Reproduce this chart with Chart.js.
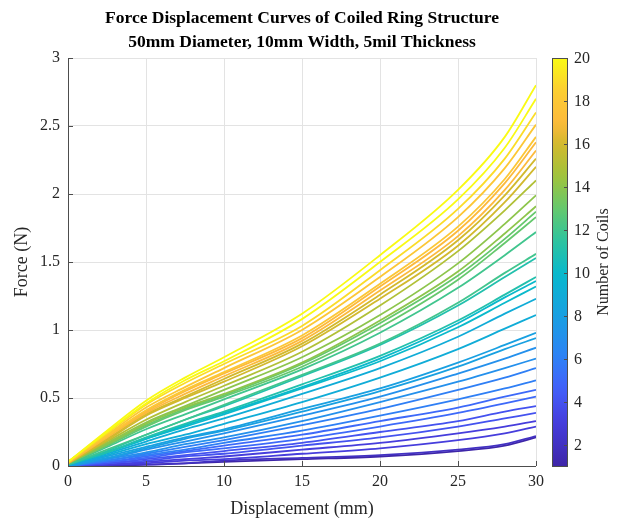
<!DOCTYPE html>
<html>
<head>
<meta charset="utf-8">
<script src="https://cdn.jsdelivr.net/npm/chart.js@4"></script>
<style>
  html, body { margin: 0; padding: 0; background: #fff; }
  canvas { display: block; }
</style>
</head>
<body>
<canvas id="chart" width="622" height="522"></canvas>
<script>
// Displacement samples (mm) shared by every curve
const displacement = [0, 2.5, 5, 7.5, 10, 15, 20, 25, 28, 30];

// Coil count of each curve (drives the colour)
const coils = [20, 20, 19, 18, 18, 17, 17, 16, 16, 15, 14, 14, 13, 13, 12, 12, 11, 11,
  10, 10, 9, 9, 8, 8, 7, 7, 6, 6, 5, 5, 4, 4, 3, 3, 2, 1];

// Force (N) per curve
const force01 = [0.03, 0.26, 0.48, 0.65, 0.80, 1.12, 1.55, 2.03, 2.42, 2.80];
const force02 = [0.03, 0.25, 0.46, 0.63, 0.77, 1.08, 1.50, 1.96, 2.34, 2.70];
const force03 = [0.03, 0.24, 0.45, 0.61, 0.75, 1.03, 1.44, 1.89, 2.26, 2.60];
const force04 = [0.03, 0.23, 0.43, 0.58, 0.72, 1.00, 1.39, 1.83, 2.19, 2.51];
const force05 = [0.03, 0.22, 0.41, 0.56, 0.69, 0.96, 1.34, 1.76, 2.11, 2.42];
const force06 = [0.03, 0.22, 0.40, 0.55, 0.68, 0.94, 1.32, 1.73, 2.08, 2.38];
const force07 = [0.02, 0.21, 0.39, 0.53, 0.66, 0.92, 1.29, 1.69, 2.03, 2.32];
const force08 = [0.02, 0.20, 0.38, 0.51, 0.64, 0.90, 1.26, 1.66, 1.99, 2.26];
const force09 = [0.02, 0.19, 0.37, 0.50, 0.62, 0.88, 1.23, 1.62, 1.94, 2.20];
const force10 = [0.02, 0.18, 0.34, 0.47, 0.59, 0.84, 1.18, 1.58, 1.88, 2.10];
const force11 = [0.02, 0.17, 0.32, 0.44, 0.56, 0.80, 1.11, 1.49, 1.78, 1.99];
const force12 = [0.02, 0.16, 0.31, 0.43, 0.53, 0.76, 1.07, 1.43, 1.71, 1.91];
const force13 = [0.02, 0.16, 0.30, 0.42, 0.52, 0.75, 1.05, 1.40, 1.67, 1.87];
const force14 = [0.02, 0.15, 0.29, 0.41, 0.51, 0.73, 1.02, 1.37, 1.64, 1.83];
const force15 = [0.01, 0.14, 0.27, 0.38, 0.49, 0.71, 0.98, 1.31, 1.55, 1.72];
const force16 = [0.01, 0.12, 0.23, 0.34, 0.45, 0.67, 0.90, 1.20, 1.42, 1.56];
const force17 = [0.01, 0.11, 0.23, 0.34, 0.44, 0.66, 0.89, 1.18, 1.39, 1.53];
const force18 = [0.01, 0.10, 0.21, 0.31, 0.40, 0.60, 0.81, 1.07, 1.26, 1.39];
const force19 = [0.01, 0.10, 0.20, 0.30, 0.39, 0.58, 0.79, 1.05, 1.24, 1.36];
const force20 = [0.01, 0.10, 0.20, 0.29, 0.38, 0.57, 0.77, 1.02, 1.20, 1.32];
const force21 = [0.01, 0.09, 0.18, 0.27, 0.35, 0.53, 0.72, 0.95, 1.12, 1.23];
const force22 = [0.01, 0.08, 0.16, 0.23, 0.31, 0.47, 0.65, 0.86, 1.01, 1.11];
const force23 = [0.00, 0.07, 0.14, 0.21, 0.27, 0.42, 0.57, 0.76, 0.89, 0.98];
const force24 = [0.00, 0.06, 0.13, 0.20, 0.26, 0.40, 0.55, 0.73, 0.86, 0.94];
const force25 = [0.00, 0.05, 0.12, 0.18, 0.24, 0.37, 0.51, 0.68, 0.79, 0.87];
const force26 = [0.00, 0.05, 0.10, 0.16, 0.21, 0.33, 0.47, 0.62, 0.72, 0.79];
const force27 = [0.00, 0.04, 0.09, 0.14, 0.19, 0.30, 0.42, 0.56, 0.65, 0.72];
const force28 = [0.00, 0.04, 0.08, 0.12, 0.17, 0.26, 0.37, 0.49, 0.57, 0.63];
const force29 = [0.00, 0.03, 0.07, 0.11, 0.15, 0.23, 0.33, 0.43, 0.51, 0.56];
const force30 = [0.00, 0.03, 0.06, 0.10, 0.13, 0.20, 0.29, 0.39, 0.46, 0.51];
const force31 = [0.00, 0.02, 0.05, 0.08, 0.11, 0.17, 0.25, 0.33, 0.40, 0.44];
const force32 = [0.00, 0.02, 0.04, 0.07, 0.09, 0.15, 0.21, 0.29, 0.35, 0.39];
const force33 = [0.00, 0.01, 0.03, 0.05, 0.07, 0.12, 0.17, 0.24, 0.29, 0.33];
const force34 = [0.00, 0.01, 0.02, 0.04, 0.05, 0.09, 0.13, 0.19, 0.24, 0.29];
const force35 = [0.00, 0.01, 0.01, 0.02, 0.04, 0.06, 0.08, 0.12, 0.16, 0.22];
const force36 = [0.00, 0.00, 0.01, 0.02, 0.03, 0.05, 0.07, 0.11, 0.15, 0.21];

const forces = [force01, force02, force03, force04, force05, force06, force07, force08, force09,
  force10, force11, force12, force13, force14, force15, force16, force17, force18, force19,
  force20, force21, force22, force23, force24, force25, force26, force27, force28, force29,
  force30, force31, force32, force33, force34, force35, force36];

// Axis ticks
const xTicks = [0, 5, 10, 15, 20, 25, 30];
const yTicks = [0, 0.5, 1, 1.5, 2, 2.5, 3];
const coilTicks = [2, 4, 6, 8, 10, 12, 14, 16, 18, 20];
const coilMin = 1, coilMax = 20;

const SERIF = '"Liberation Serif", "DejaVu Serif", serif';
const TEXT = '#262626';

// parula-like colour stops (position 0..1)
const stops = [
  [0.00, [62, 38, 168]],
  [0.11, [70, 62, 222]],
  [0.19, [66, 96, 250]],
  [0.27, [45, 130, 245]],
  [0.37, [25, 160, 225]],
  [0.47, [8, 184, 205]],
  [0.55, [45, 195, 160]],
  [0.63, [100, 200, 110]],
  [0.71, [160, 195, 60]],
  [0.79, [210, 185, 45]],
  [0.84, [252, 185, 60]],
  [0.92, [252, 205, 50]],
  [1.00, [249, 250, 20]],
];

function parula(t) {
  t = Math.max(0, Math.min(1, t));
  for (let i = 1; i < stops.length; i++) {
    if (t <= stops[i][0]) {
      const [t0, c0] = stops[i - 1];
      const [t1, c1] = stops[i];
      const f = (t - t0) / (t1 - t0);
      const c = c0.map((v, k) => Math.round(v + (c1[k] - v) * f));
      return `rgb(${c[0]},${c[1]},${c[2]})`;
    }
  }
  return 'rgb(249,250,20)';
}

function coilColor(n) {
  return parula((n - coilMin) / (coilMax - coilMin));
}

const datasets = forces.map((f, i) => ({
  data: displacement.map((x, j) => ({ x, y: f[j] })),
  borderColor: coilColor(coils[i]),
  borderWidth: 1.8,
  pointRadius: 0,
  fill: false,
  cubicInterpolationMode: 'monotone',
}));

// Title, inward ticks and colorbar
const decorations = {
  id: 'decorations',
  afterDraw(chart) {
    const ctx = chart.ctx;
    const area = chart.chartArea;
    const xs = chart.scales.x, ys = chart.scales.y;
    ctx.save();

    // axis lines + inward ticks
    ctx.strokeStyle = '#4d4d4d';
    ctx.lineWidth = 1;
    ctx.beginPath();
    ctx.moveTo(area.left + 0.5, area.top);
    ctx.lineTo(area.left + 0.5, area.bottom + 0.5);
    ctx.lineTo(area.right, area.bottom + 0.5);
    xTicks.forEach(v => {
      const px = Math.round(xs.getPixelForValue(v)) + 0.5;
      ctx.moveTo(px, area.bottom);
      ctx.lineTo(px, area.bottom - 5);
    });
    yTicks.forEach(v => {
      const py = Math.round(ys.getPixelForValue(v)) + 0.5;
      ctx.moveTo(area.left, py);
      ctx.lineTo(area.left + 5, py);
    });
    ctx.stroke();

    // title
    ctx.fillStyle = '#000';
    ctx.font = 'bold 17.5px ' + SERIF;
    ctx.textAlign = 'center';
    ctx.textBaseline = 'middle';
    const cx = (area.left + area.right) / 2;
    ctx.fillText('Force Displacement Curves of Coiled Ring Structure', cx, 18);
    ctx.fillText('50mm Diameter, 10mm Width, 5mil Thickness', cx, 42);

    // colorbar
    const cbL = 552, cbR = 568, cbT = area.top, cbB = area.bottom;
    const grad = ctx.createLinearGradient(0, cbB, 0, cbT);
    for (let k = 0; k <= 40; k++) grad.addColorStop(k / 40, parula(k / 40));
    ctx.fillStyle = grad;
    ctx.fillRect(cbL, cbT, cbR - cbL, cbB - cbT);
    ctx.strokeStyle = '#4d4d4d';
    ctx.lineWidth = 1;
    ctx.strokeRect(cbL + 0.5, cbT + 0.5, cbR - cbL - 1, cbB - cbT);
    ctx.fillStyle = TEXT;
    ctx.font = '16px ' + SERIF;
    ctx.textAlign = 'left';
    ctx.textBaseline = 'middle';
    coilTicks.forEach(v => {
      const py = Math.round(cbB - (v - coilMin) / (coilMax - coilMin) * (cbB - cbT)) + 0.5;
      ctx.beginPath();
      ctx.moveTo(cbR - 4, py);
      ctx.lineTo(cbR, py);
      ctx.stroke();
      ctx.fillText(String(v), 574, py);
    });
    ctx.translate(604, (cbT + cbB) / 2);
    ctx.rotate(-Math.PI / 2);
    ctx.textAlign = 'center';
    ctx.font = '16px ' + SERIF;
    ctx.fillText('Number of Coils', 0, 0);
    ctx.restore();
  }
};

new Chart(document.getElementById('chart'), {
  type: 'line',
  data: { datasets },
  options: {
    responsive: false,
    animation: false,
    layout: { padding: { left: 0, right: 86, top: 58, bottom: 0 } },
    plugins: { legend: { display: false }, tooltip: { enabled: false } },
    scales: {
      x: {
        type: 'linear',
        min: 0, max: 30,
        afterBuildTicks: s => { s.ticks = xTicks.map(value => ({ value })); },
        afterFit: s => { s.height = 56; },
        grid: { color: '#e3e3e3', drawTicks: false },
        border: { display: false },
        ticks: { color: TEXT, font: { family: SERIF, size: 16 }, padding: 6, maxRotation: 0 },
        title: { display: true, text: 'Displacement (mm)', color: TEXT, font: { family: SERIF, size: 18 }, padding: 2 },
      },
      y: {
        type: 'linear',
        min: 0, max: 3,
        afterBuildTicks: s => { s.ticks = yTicks.map(value => ({ value })); },
        afterFit: s => { s.width = 68; },
        grid: { color: '#e3e3e3', drawTicks: false },
        border: { display: false },
        ticks: { color: TEXT, font: { family: SERIF, size: 16 }, padding: 8, callback: v => String(v) },
        title: { display: true, text: 'Force (N)', color: TEXT, font: { family: SERIF, size: 18 }, padding: 11 },
      },
    },
  },
  plugins: [decorations],
});
</script>
</body>
</html>
